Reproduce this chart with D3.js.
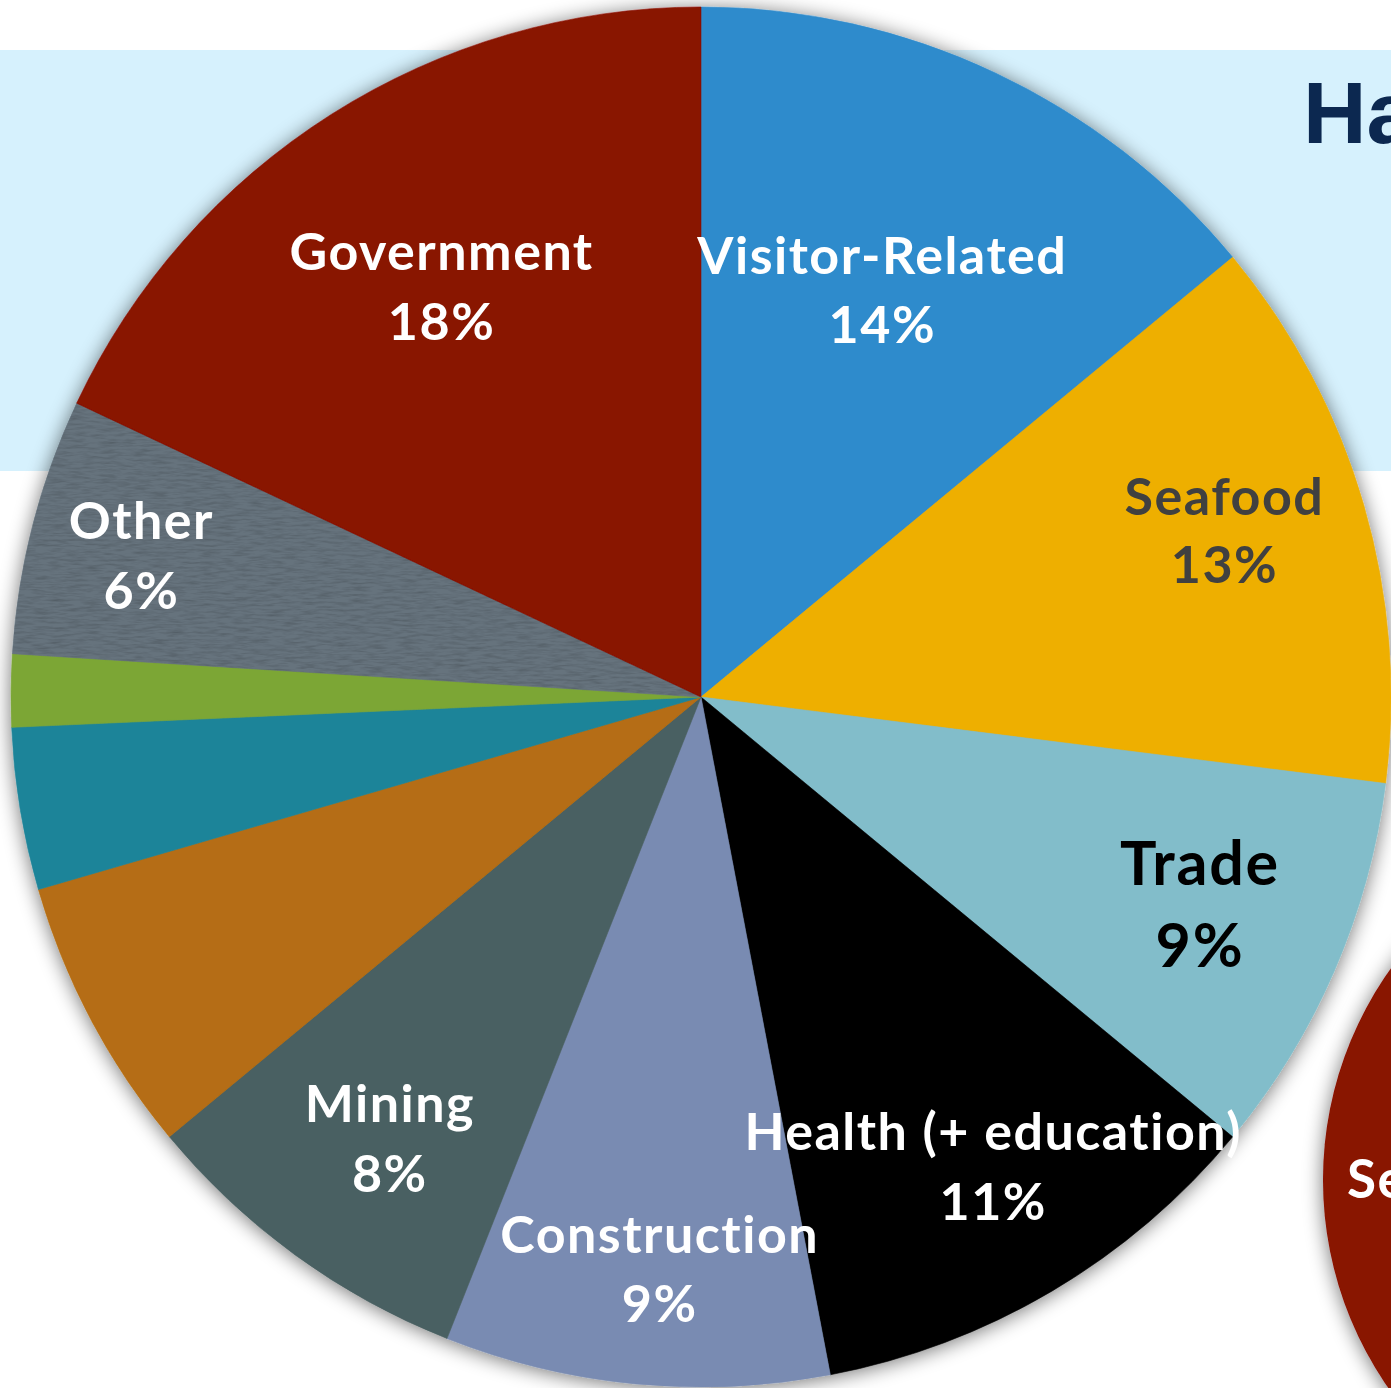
<!DOCTYPE html>
<html>
<head>
<meta charset="utf-8">
<script src="https://cdn.jsdelivr.net/npm/d3@7"></script>
<style>
  html, body { margin: 0; padding: 0; background: #ffffff; overflow: hidden; }
  svg { display: block; }
</style>
</head>
<body>
<script>
// Employment share by sector (percent), clockwise from 12 o'clock
const sectors = [
  "Visitor-Related", "Seafood", "Trade", "Health (+ education)", "Construction",
  "Mining", "Transportation", "Professional Services", "Timber", "Other", "Government"
];
const shares = [14, 13, 9, 11, 9, 8, 6.5, 3.8, 1.7, 6, 18];
const shownLabels = [true, true, true, true, true, true, false, false, false, true, true];
const sliceColors = [
  "#2f8bcc", "#eeaf04", "#82bdca", "#000000", "#798bb2",
  "#4a6062", "#b56d12", "#1f8499", "#7ba636", "#66737d", "#891200"
];
const labelColors = [
  "#ffffff", "#404040", "#000000", "#ffffff", "#ffffff",
  "#ffffff", "#ffffff", "#ffffff", "#ffffff", "#ffffff", "#ffffff"
];

// Label placement: distance from centre and small angular nudge (degrees)
const labelPlacement = {
  "Visitor-Related": { r: 429, da: -0.2, size: 52, gap: 69, ls: 1.5 },
  "Seafood": { r: 544, da: 0.4, size: 52, gap: 68, ls: 1.5 },
  "Trade": { r: 549, da: 1.25, size: 61, gap: 82, ls: 1.8 },
  "Health (+ education)": { r: 569, da: -0.3, size: 52, gap: 70, ls: 1.5 },
  "Construction": { r: 592, da: -1.4, size: 52, gap: 69, ls: 1.5 },
  "Mining": { r: 555, da: -1.9, size: 52, gap: 70, ls: 1.5 },
  "Other": { r: 573, da: -2.0, size: 52, gap: 70, ls: 1.5 },
  "Government": { r: 470, da: -1.1, size: 52, gap: 70, ls: 1.5 }
};

const W = 1391, H = 1388;
const cx = 701, cy = 697, R = 690;

const svg = d3.select("body").append("svg")
  .attr("width", W).attr("height", H);

const defs = svg.append("defs");

// Soft shadow round the discs
const shadow = defs.append("filter").attr("id", "shadow")
  .attr("x", "-10%").attr("y", "-10%").attr("width", "120%").attr("height", "120%");
shadow.append("feGaussianBlur").attr("in", "SourceAlpha").attr("stdDeviation", 10).attr("result", "b");
shadow.append("feOffset").attr("in", "b").attr("dx", 0).attr("dy", 2).attr("result", "o");
shadow.append("feComponentTransfer").attr("in", "o").attr("result", "s")
  .append("feFuncA").attr("type", "linear").attr("slope", 0.55);
const sm = shadow.append("feMerge");
sm.append("feMergeNode").attr("in", "s");
sm.append("feMergeNode").attr("in", "SourceGraphic");

// Paper-like grain for the "Other" wedge
const grain = defs.append("filter").attr("id", "grain")
  .attr("x", "0").attr("y", "0").attr("width", "100%").attr("height", "100%");
grain.append("feTurbulence").attr("type", "fractalNoise")
  .attr("baseFrequency", "0.06 0.4").attr("numOctaves", 3).attr("seed", 7).attr("result", "n");
grain.append("feColorMatrix").attr("in", "n").attr("type", "matrix")
  .attr("values", "0 0 0 0 0  0 0 0 0 0  0 0 0 0 0  1.4 0 0 0 -0.55").attr("result", "a");
grain.append("feComposite").attr("in", "a").attr("in2", "SourceGraphic").attr("operator", "in");

// Header band
svg.append("rect").attr("x", 0).attr("y", 50).attr("width", W).attr("height", 421)
  .attr("fill", "#d6f1fd");

svg.append("text")
  .attr("x", 1303).attr("y", 143)
  .attr("font-family", "'Liberation Sans', Arial, sans-serif")
  .attr("font-weight", 700).attr("font-size", 88)
  .attr("fill", "#0c2850")
  .text("Ha");

// Neighbouring disc at the lower right
const side = svg.append("g");
side.append("circle").attr("cx", 1687).attr("cy", 1180).attr("r", 364)
  .attr("fill", "#891200").attr("filter", "url(#shadow)");
side.append("text")
  .attr("x", 1347).attr("y", 1198)
  .attr("font-family", "Lato, 'Open Sans', sans-serif")
  .attr("font-weight", 700).attr("font-size", 53)
  .attr("letter-spacing", 1.5)
  .attr("fill", "#ffffff")
  .text("Se");

// Pie
const data = sectors.map((s, i) => ({
  sector: s, value: shares[i], show: shownLabels[i],
  color: sliceColors[i], labelColor: labelColors[i]
}));

const pie = d3.pie().sort(null).value(d => d.value).startAngle(0).endAngle(2 * Math.PI);
const arcs = pie(data);
const arc = d3.arc().innerRadius(0).outerRadius(R);

const g = svg.append("g").attr("transform", `translate(${cx},${cy})`);

const wedges = g.append("g").attr("filter", "url(#shadow)");
wedges.selectAll("path.wedge")
  .data(arcs)
  .join("path")
  .attr("class", "wedge")
  .attr("d", arc)
  .attr("fill", d => d.data.color)
  .attr("stroke", d => d.data.color)
  .attr("stroke-width", 0.6);

// Grain overlay on the "Other" wedge
g.append("path")
  .datum(arcs.find(a => a.data.sector === "Other"))
  .attr("d", arc)
  .attr("fill", "#3c4650")
  .attr("opacity", 0.22)
  .attr("filter", "url(#grain)");

// Labels
const labels = g.selectAll("g.label")
  .data(arcs.filter(a => a.data.show))
  .join("g")
  .attr("class", "label")
  .attr("transform", d => {
    const p = labelPlacement[d.data.sector];
    const a = (d.startAngle + d.endAngle) / 2 + p.da * Math.PI / 180;
    return `translate(${p.r * Math.sin(a)},${-p.r * Math.cos(a)})`;
  })
  .attr("font-family", "Lato, 'Open Sans', sans-serif")
  .attr("font-weight", 700)
  .attr("text-anchor", "middle")
  .attr("fill", d => d.data.labelColor);

labels.append("text")
  .attr("y", d => -labelPlacement[d.data.sector].gap / 2)
  .attr("font-size", d => labelPlacement[d.data.sector].size)
  .attr("letter-spacing", d => labelPlacement[d.data.sector].ls)
  .text(d => d.data.sector);

labels.append("text")
  .attr("y", d => labelPlacement[d.data.sector].gap / 2)
  .attr("font-size", d => labelPlacement[d.data.sector].size)
  .attr("letter-spacing", d => labelPlacement[d.data.sector].ls)
  .text(d => d3.format("d")(d.data.value) + "%");
</script>
</body>
</html>
